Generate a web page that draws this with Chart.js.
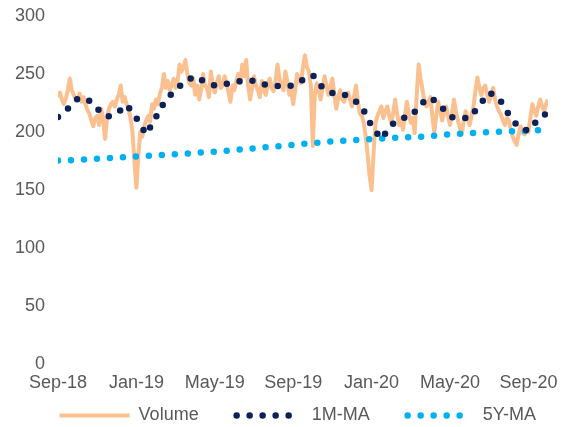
<!DOCTYPE html>
<html>
<head>
<meta charset="utf-8">
<script src="https://cdn.jsdelivr.net/npm/chart.js@4.4.0/dist/chart.umd.min.js"></script>
<style>
  html, body { margin: 0; padding: 0; background: #fff; }
</style>
</head>
<body>
<canvas id="myCanvas" width="563" height="427"></canvas>
<script>
// x axis is in months from Sep-18
var tickLabels = ['Sep-18', 'Jan-19', 'May-19', 'Sep-19', 'Jan-20', 'May-20', 'Sep-20'];

// volume, one reading every 0.1 month
var volumeStep = 0.1;
var volume = [
  230, 234, 228, 224, 229, 236, 246, 236, 232, 228,
  228, 233, 226, 230, 224, 219, 216, 210, 205, 212,
  214, 206, 220, 212, 194, 212, 220, 224, 226, 222,
  228, 232, 240, 226, 230, 224, 220, 212, 200, 175,
  152, 180, 200, 196, 205, 210, 214, 209, 224, 220,
  228, 224, 233, 238, 250, 238, 244, 236, 240, 246,
  238, 244, 258, 252, 256, 262, 250, 242, 240, 246,
  232, 240, 228, 236, 250, 240, 238, 230, 252, 240,
  234, 242, 248, 238, 240, 248, 242, 234, 226, 240,
  236, 244, 250, 242, 258, 248, 262, 240, 228, 238,
  248, 240, 236, 230, 244, 236, 232, 240, 246, 238,
  235, 244, 258, 246, 240, 236, 252, 244, 232, 236,
  224, 236, 250, 244, 242, 256, 266, 256, 252, 240,
  188, 232, 242, 236, 228, 238, 248, 240, 232, 240,
  246, 232, 220, 230, 236, 228, 226, 232, 234, 228,
  222, 230, 240, 226, 216, 214, 208, 196, 180, 162,
  150, 182, 208, 214, 218, 222, 212, 218, 222, 214,
  208, 216, 228, 216, 206, 212, 202, 214, 226, 216,
  208, 212, 199, 232, 258, 246, 236, 226, 222, 226,
  230, 214, 200, 214, 226, 218, 210, 216, 222, 214,
  206, 216, 228, 218, 210, 204, 198, 210, 218, 212,
  206, 214, 222, 236, 247, 238, 232, 238, 240, 232,
  226, 232, 238, 228, 222, 218, 215, 210, 206, 212,
  210, 202, 196, 192, 189, 198, 205, 200, 198, 202,
  200, 212, 224, 218, 214, 222, 228, 222, 218, 224, 228
];

// 1M-MA, one reading every 0.5 month
var ma1mStep = 0.5;
var ma1m = [
  213, 220, 228.5, 228.5, 220, 213, 216, 223.5, 212, 198,
  213, 228, 236, 244, 248, 243, 240, 241, 243, 244.5,
  244, 241, 240, 239, 240, 245, 249, 238, 233.5, 233,
  229, 222, 205, 194, 206, 212, 213, 224, 230, 223,
  213, 212, 212, 223, 234, 229, 215, 204, 201, 211, 217
];

// 5Y-MA, monthly
var ma5yStep = 1;
var ma5y = [
  175.5, 176, 177, 178, 179, 180, 181, 182, 183, 184.5,
  186, 187.5, 189, 190.5, 192, 193, 194, 195, 195.5, 196.5,
  198, 199, 200, 200.5, 201, 202
];

function toPoints(values, step) {
  var pts = [];
  for (var i = 0; i < values.length; i++) {
    pts.push({ x: Math.round(i * step * 100) / 100, y: values[i] });
  }
  return pts;
}

var font = { family: '"Liberation Sans", Arial, sans-serif', size: 18 };
var textColor = '#595959';

var chartdata = {
  datasets: [
    {
      label: 'Volume',
      data: toPoints(volume, volumeStep),
      borderColor: '#FAC090',
      backgroundColor: '#FAC090',
      borderWidth: 4,
      borderJoinStyle: 'round',
      pointRadius: 0,
      tension: 0,
      order: 2
    },
    {
      label: '1M-MA',
      data: toPoints(ma1m, ma1mStep),
      borderColor: '#0C2157',
      backgroundColor: '#0C2157',
      borderWidth: 6.5,
      borderDash: [0, 13],
      borderCapStyle: 'round',
      pointRadius: 0,
      tension: 0,
      order: 0
    },
    {
      label: '5Y-MA',
      data: toPoints(ma5y, ma5yStep),
      borderColor: '#00B0F0',
      backgroundColor: '#00B0F0',
      borderWidth: 6.5,
      borderDash: [0, 13],
      borderCapStyle: 'round',
      pointRadius: 0,
      tension: 0,
      order: 1
    }
  ]
};

// legend samples: the sample box is 92px wide, only the right part is inked
var dotSample = [0, 13, 0, 13, 0, 13, 0, 13, 0, 300];

var ctx = document.getElementById('myCanvas');

var lineGraph = new Chart(ctx, {
  type: 'line',
  data: chartdata,
  options: {
    responsive: false,
    devicePixelRatio: 1,
    animation: false,
    layout: { padding: { top: 2, right: 15, left: 0, bottom: -7.5 } },
    plugins: {
      tooltip: { enabled: false },
      legend: {
        position: 'bottom',
        align: 'end',
        labels: {
          usePointStyle: true,
          pointStyle: 'line',
          pointStyleWidth: 92,
          font: font,
          color: textColor,
          padding: 12,
          generateLabels: function(chart) {
            return chart.data.datasets.map(function(ds, i) {
              var dotted = !!ds.borderDash;
              return {
                text: ds.label,
                datasetIndex: i,
                fillStyle: ds.borderColor,
                strokeStyle: ds.borderColor,
                fontColor: textColor,
                lineWidth: dotted ? ds.borderWidth : 4,
                lineDash: dotted ? dotSample : [70, 300],
                lineDashOffset: dotted ? 326 : 348,
                lineCap: dotted ? 'round' : 'butt',
                pointStyle: 'line',
                hidden: false
              };
            });
          }
        }
      }
    },
    scales: {
      x: {
        type: 'linear',
        min: 0,
        max: 25,
        grid: { display: false },
        border: { display: false },
        ticks: {
          stepSize: 4,
          includeBounds: false,
          maxRotation: 0,
          autoSkip: false,
          padding: 2,
          font: { family: font.family, size: 18, lineHeight: 1 },
          color: textColor,
          callback: function(v) {
            return v % 4 === 0 ? tickLabels[v / 4] : '';
          }
        }
      },
      y: {
        min: 0,
        max: 300,
        grid: { display: false },
        border: { display: false },
        afterFit: function(scale) { scale.width = 58; },
        ticks: {
          stepSize: 50,
          padding: 5,
          font: font,
          color: textColor
        }
      }
    }
  }
});
</script>
</body>
</html>
